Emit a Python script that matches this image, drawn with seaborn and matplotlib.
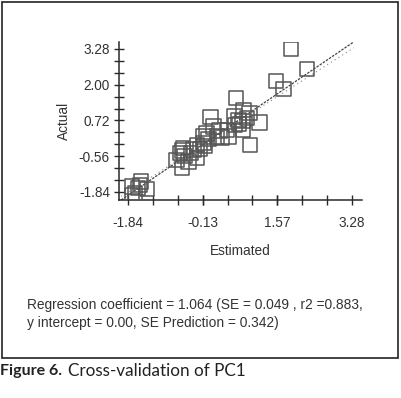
import numpy as np
import pandas as pd
import matplotlib
matplotlib.use("Agg")
import matplotlib.pyplot as plt
from matplotlib.patches import Rectangle
import seaborn as sns

# ---- data ----
estimated = [1.89, 2.25, 1.54, 1.72, 0.625,
             0.05, 0.59, 0.80, 0.94, 1.17, 0.95, 0.785, 0.685, 0.78, 0.88,
             0.455, 0.42, 0.11, 0.19, 0.25, -0.116, -0.116, 0.0, -0.05,
             -0.27, -0.35, -0.20, -0.27, -0.59, -0.65, -0.74, -0.61, -0.46,
             -0.55, -0.60, -0.40, -0.10, 0.30, 0.60, 0.70,
             -1.755, -1.55, -1.41, -1.68, -1.62, -1.75, -1.57]
actual = [3.28, 2.56, 2.14, 1.84, 1.52,
          0.84, 0.86, 1.10, 0.98, 0.64, -0.155, 0.38, 0.74, 0.70, 0.80,
          0.14, 0.38, 0.50, 0.14, 0.35, 0.14, -0.094, 0.05, 0.25,
          -0.155, -0.33, -0.30, -0.63, -0.27, -0.45, -0.69, -0.99, -0.75,
          -0.55, -0.35, -0.45, -0.20, 0.10, 0.55, 0.60,
          -1.65, -1.47, -1.74, -1.89, -1.70, -1.95, -1.60]
reg_slope = 1.064
reg_x = [-2.0, 3.32]
x_tick_labels = ["-1.84", "-0.13", "1.57", "3.28"]
y_tick_labels = ["-1.84", "-0.56", "0.72", "2.00", "3.28"]
stats_text = ("Regression coefficient = 1.064 (SE = 0.049 , r2 =0.883,\n"
              "y intercept = 0.00, SE Prediction = 0.342)")

df = pd.DataFrame({"Estimated": estimated, "Actual": actual})

sns.set_style("white")
plt.rcParams["font.family"] = ["Liberation Sans", "DejaVu Sans"]

W, H = 401, 398
fig = plt.figure(figsize=(W / 100, H / 100), dpi=100)
ax = fig.add_axes([119 / W, 1 - 200 / H, 243 / W, 158 / H])

dark = "#2a2a2a"
sns.scatterplot(data=df, x="Estimated", y="Actual", ax=ax, marker="s", s=110,
                facecolor="none", edgecolor="#555555", linewidth=1.1, zorder=3)

rx = np.array(reg_x)
ax.plot(rx, rx, linestyle=(0, (1, 3)), color="#888888", linewidth=0.8, zorder=2)
ax.plot(rx, reg_slope * rx, linestyle=(0, (2, 1)), color="#444444", linewidth=0.9, zorder=2)

ax.set_xlim(-2.05, 3.51)
ax.set_ylim(-2.13, 3.53)

xt = [float(v) for v in x_tick_labels]
yt = [float(v) for v in y_tick_labels]
ax.set_xticks(xt)
ax.set_xticklabels(x_tick_labels)
ax.set_yticks(yt)
ax.set_yticklabels(y_tick_labels)
ax.set_xticks(np.linspace(xt[0], xt[-1], 10), minor=True)
ax.set_yticks(np.linspace(yt[0], yt[-1], 13), minor=True)
ax.tick_params(which="both", bottom=True, left=True, direction="inout",
               length=7, width=1, color=dark,
               labelsize=9.8, labelcolor="#333333", pad=3)
ax.tick_params(axis="x", which="major", pad=8)

for s in ["top", "right"]:
    ax.spines[s].set_visible(False)
for s in ["left", "bottom"]:
    ax.spines[s].set_color(dark)
    ax.spines[s].set_linewidth(1.1)

ax.set_xlabel("Estimated", fontsize=9.8, color="#333333", labelpad=10)
ax.set_ylabel("Actual", fontsize=9.8, color="#333333", labelpad=6)

# frame around chart and statistics
fig.patches.append(Rectangle((2 / W, 1 - 358 / H), 396 / W, 356 / H,
                             transform=fig.transFigure, fill=False,
                             edgecolor="#222222", linewidth=1.2))

fig.text(27 / W, 1 - 314 / H, stats_text, fontsize=9.9, color="#333333",
         ha="left", va="center", linespacing=1.35)

fig.text(0.0, 1 - 371 / H, "Figure 6.", fontsize=11.5, fontweight="bold",
         family=["Lato", "DejaVu Sans"], color="#222222", ha="left", va="center")
fig.text(68 / W, 1 - 371 / H, "Cross-validation of PC1", fontsize=12.3,
         family=["Lato", "DejaVu Sans"], color="#222222", ha="left", va="center")

fig.savefig("out.png", dpi=100)
